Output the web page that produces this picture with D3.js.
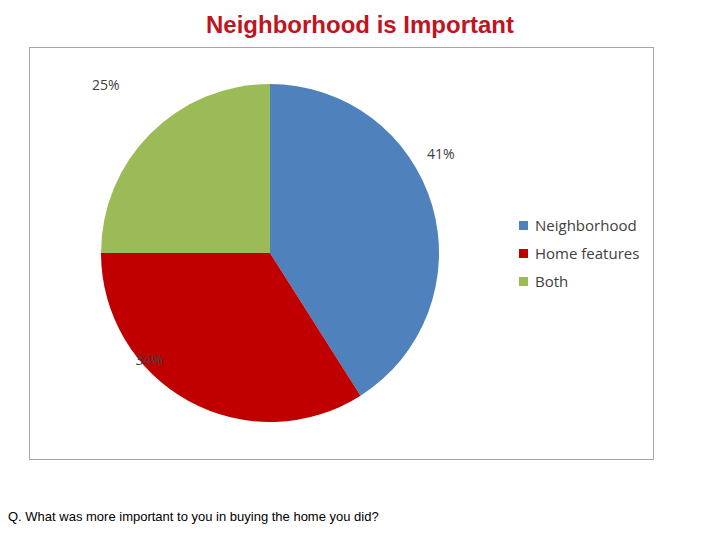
<!DOCTYPE html>
<html><head><meta charset="utf-8">
<script src="https://cdn.jsdelivr.net/npm/d3@7"></script>
<style>body{margin:0;background:#fff}</style></head>
<body><svg id="c" width="720" height="540"></svg>
<script>
const categories = ["Neighborhood","Home features","Both"];
const values = [41,34,25];
const labels = ["41%","34%","25%"];
const colors = ["#4f81bd","#c00000","#9bbb59"];

const svg = d3.select("#c");
svg.append("text").attr("x",360).attr("y",33).attr("text-anchor","middle")
  .attr("font-family","Liberation Sans, Arial").attr("font-weight","bold")
  .attr("font-size",24).attr("fill","#c0141e").text("Neighborhood is Important");
svg.append("rect").attr("x",29.5).attr("y",47.5).attr("width",624).attr("height",412)
  .attr("fill","#fff").attr("stroke","#a6a6a6");

const cx=270, cy=253, r=169;
const pie = d3.pie().sort(null).value(d=>d)(values);
const arc = d3.arc().innerRadius(0).outerRadius(r);
const g = svg.append("g").attr("transform",`translate(${cx},${cy})`);
g.selectAll("path").data(pie).join("path").attr("d",arc).attr("fill",(d,i)=>colors[i]);
const lab = d3.arc().innerRadius(r*0.98).outerRadius(r*1.05);
g.selectAll("text").data(pie).join("text")
  .attr("transform",(d,i)=>{const [x,y]=lab.centroid(d); return `translate(${x-(i==0?-6:i==1?38:43)},${y+(i==0?-46:i==1?-38:-42)})`;})
  .attr("text-anchor","middle").attr("font-family","Open Sans, sans-serif").attr("font-size",14)
  .attr("fill","#404040").text((d,i)=>labels[i]);

const lg = svg.append("g");
categories.forEach((c,i)=>{
  lg.append("rect").attr("x",519).attr("y",221+i*28).attr("width",9).attr("height",9).attr("fill",colors[i]);
  lg.append("text").attr("x",535).attr("y",231+i*28).attr("font-family","Open Sans, sans-serif")
    .attr("font-size",15).attr("fill","#404040").text(c);
});
svg.append("text").attr("x",8).attr("y",521).attr("font-family","Liberation Sans, Arial")
  .attr("font-size",13).attr("fill","#000").text("Q. What was more important to you in buying the home you did?");
</script></body></html>
